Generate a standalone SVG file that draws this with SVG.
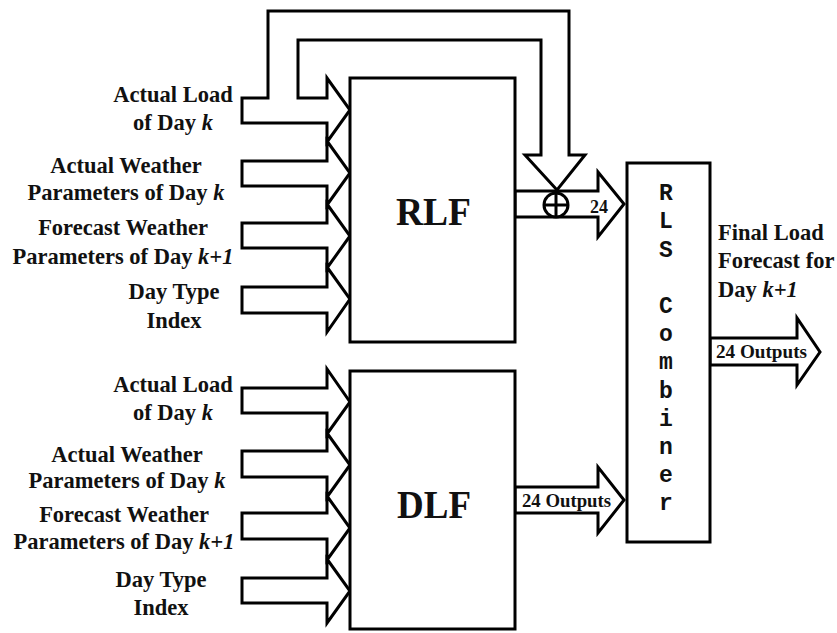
<svg xmlns="http://www.w3.org/2000/svg" width="837" height="633" viewBox="0 0 837 633">
<style>
.ln{fill:#fff;stroke:#000;stroke-width:3;stroke-linejoin:miter}
.lbl{font-family:"Liberation Serif","Times New Roman",serif;font-weight:bold;font-size:22.5px;fill:#111;text-anchor:middle}
.big{font-family:"Liberation Serif","Times New Roman",serif;font-weight:bold;font-size:41px;fill:#111;text-anchor:middle}
.sm{font-family:"Liberation Serif","Times New Roman",serif;font-weight:bold;font-size:18px;fill:#111}
.mono{font-family:"Liberation Mono","Courier New",monospace;font-weight:bold;font-size:23px;fill:#111;text-anchor:middle}
.it{font-style:italic}
</style>
<rect width="837" height="633" fill="#fff"/>
<g id="connectors">
  <path class="ln" d="M242 98 H268 V11 H569 V155 H585 L557 190 L525 155 H541 V40 H298 V98 H327 V78 L350 110 L327 142 V123 H242 Z"/>
  <path class="ln" d="M242 161 H327 V141 L350 173 L327 205 V186 H242 Z"/>
  <path class="ln" d="M242 223 H327 V204 L350 236 L327 268 V248 H242 Z"/>
  <path class="ln" d="M242 287 H327 V267 L350 299 L327 332 V313 H242 Z"/>
  <path class="ln" d="M242 388 H327 V369 L350 402 L327 434 V413 H242 Z"/>
  <path class="ln" d="M242 451 H327 V433 L350 465 L327 497 V477 H242 Z"/>
  <path class="ln" d="M242 513 H327 V496 L350 528 L327 560 V539 H242 Z"/>
  <path class="ln" d="M242 578 H327 V559 L350 591 L327 623 V603 H242 Z"/>
  <path class="ln" d="M515 191 H598 V172 L624 204 L598 237 V217 H515 Z"/>
  <path class="ln" d="M515 487 H598 V467 L624 500 L598 533 V513 H515 Z"/>
  <path class="ln" d="M710 338 H797 V318 L820 352 L797 385 V365 H710 Z"/>
  <g id="sum">
    <circle class="ln" cx="556" cy="205" r="12"/>
    <path d="M544 205 H568 M556 193 V217" stroke="#000" stroke-width="3" fill="none"/>
  </g>
  <text class="sm" x="590" y="213" font-size="16">24</text>
  <text class="sm" x="522" y="507" textLength="89" lengthAdjust="spacingAndGlyphs">24 Outputs</text>
  <text class="sm" x="716" y="358" textLength="91" lengthAdjust="spacingAndGlyphs">24 Outputs</text>
</g>
<g id="RLF">
  <rect class="ln" x="350" y="78" width="165" height="264"/>
  <text class="big" x="433.5" y="225" textLength="75" lengthAdjust="spacingAndGlyphs">RLF</text>
</g>
<g id="DLF">
  <rect class="ln" x="350" y="371" width="165" height="258"/>
  <text class="big" x="434" y="518" textLength="74" lengthAdjust="spacingAndGlyphs">DLF</text>
</g>
<g id="RLS">
  <rect class="ln" x="627" y="163" width="83" height="379"/>
  <text class="mono" x="666" y="200">R</text>
  <text class="mono" x="666" y="228">L</text>
  <text class="mono" x="666" y="256.5">S</text>
  <text class="mono" x="666" y="313">C</text>
  <text class="mono" x="666" y="341">o</text>
  <text class="mono" x="666" y="369">m</text>
  <text class="mono" x="666" y="397.5">b</text>
  <text class="mono" x="666" y="425.5">i</text>
  <text class="mono" x="666" y="454">n</text>
  <text class="mono" x="666" y="482">e</text>
  <text class="mono" x="666" y="510">r</text>
</g>
<g id="rlf-labels">
  <text class="lbl" x="173" y="102">Actual Load</text>
  <text class="lbl" x="173" y="130">of Day <tspan class="it">k</tspan></text>
  <text class="lbl" x="126" y="173">Actual Weather</text>
  <text class="lbl" x="126" y="200">Parameters of Day <tspan class="it">k</tspan></text>
  <text class="lbl" x="123" y="235">Forecast Weather</text>
  <text class="lbl" x="123" y="264">Parameters of Day <tspan class="it">k+1</tspan></text>
  <text class="lbl" x="174" y="299">Day Type</text>
  <text class="lbl" x="174" y="328">Index</text>
</g>
<g id="dlf-labels">
  <text class="lbl" x="173" y="392">Actual Load</text>
  <text class="lbl" x="173" y="420">of Day <tspan class="it">k</tspan></text>
  <text class="lbl" x="127" y="462">Actual Weather</text>
  <text class="lbl" x="127" y="488">Parameters of Day <tspan class="it">k</tspan></text>
  <text class="lbl" x="124" y="522">Forecast Weather</text>
  <text class="lbl" x="124" y="549">Parameters of Day <tspan class="it">k+1</tspan></text>
  <text class="lbl" x="161" y="587">Day Type</text>
  <text class="lbl" x="161" y="615">Index</text>
</g>
<g id="final-label">
  <text class="lbl" x="718" y="240" style="text-anchor:start">Final Load</text>
  <text class="lbl" x="718" y="268" style="text-anchor:start">Forecast for</text>
  <text class="lbl" x="718" y="297" style="text-anchor:start">Day <tspan class="it">k+1</tspan></text>
</g>
</svg>
